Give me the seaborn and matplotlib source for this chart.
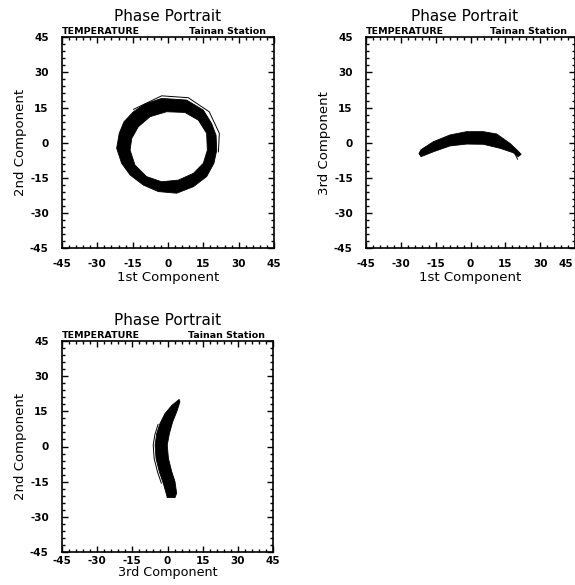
import matplotlib
matplotlib.use("Agg")
import matplotlib.pyplot as plt
from matplotlib.path import Path
from matplotlib.patches import PathPatch
from matplotlib.ticker import MultipleLocator
import matplotlib.transforms as mtransforms
import seaborn as sns

sns.set_style("ticks", {"axes.edgecolor": "black", "xtick.color": "black",
                        "ytick.color": "black", "text.color": "black",
                        "axes.labelcolor": "black"})
plt.rcParams['font.family'] = ['DejaVu Sans']
plt.rcParams['axes.unicode_minus'] = False

# ---------------- text / ticks ----------------
TITLE = "Phase Portrait"
VARIABLE = "TEMPERATURE"
STATION = "Tainan Station"
TICKS = [-45, -30, -15, 0, 15, 30, 45]
TICK_LABELS = ["-45", "-30", "-15", "0", "15", "30", "45"]

# ---------------- panel 1: 1st vs 2nd component (ring band) ----------------
ring_outer_x = [-21.8, -20.7, -18.7, -14.7, -9.8, -2.7, 7.9, 15.0, 18.5, 20.4,
                20.7, 19.5, 16.4, 10.8, 3.7, -4.1, -10.5, -16.1, -19.7]
ring_outer_y = [-2.4, 4.0, 8.9, 13.2, 16.5, 18.9, 18.2, 13.9, 8.2, 3.2,
                -3.2, -8.8, -14.5, -18.8, -21.6, -20.9, -18.1, -13.8, -8.8]
ring_inner_x = [-16.1, -15.4, -12.6, -7.6, -0.6, 7.2, 12.9, 16.4, 16.7, 15.0,
                10.8, 4.4, -2.7, -9.1, -14.0]
ring_inner_y = [-3.2, 1.8, 6.8, 11.1, 13.2, 12.9, 9.6, 4.0, -3.2, -8.8,
                -13.1, -16.0, -16.7, -14.5, -9.6]
ring_stray_x = [-14.7, -2.7, 8.6, 17.5, 21.8, 21.4]
ring_stray_y = [14.2, 20.0, 19.2, 13.2, 4.0, -4.0]

# ---------------- panel 2: 1st vs 3rd component (arc band) ----------------
arc_top_x = [-22.2, -21.3, -16.0, -8.8, -1.6, 5.5, 11.3, 17.0, 20.5, 21.8]
arc_top_y = [-4.6, -3.0, 0.4, 3.3, 4.7, 4.7, 3.7, -0.3, -3.6, -5.0]
arc_bottom_x = [20.5, 18.4, 12.7, 5.5, -1.6, -8.8, -16.0, -21.3]
arc_bottom_y = [-6.0, -4.3, -2.4, -0.7, -0.6, -1.4, -3.9, -6.0]
arc_tail_x = [19.0, 20.3]
arc_tail_y = [-4.5, -7.1]

# ---------------- panel 3: 3rd vs 2nd component (crescent band) ----------------
crescent_left_x = [5.0, 1.8, -1.1, -3.2, -4.6, -5.3, -4.9, -3.5, -1.8, -0.6, -0.1]
crescent_left_y = [20.1, 17.5, 14.0, 9.8, 5.5, 0.6, -5.1, -10.7, -15.7, -19.9, -21.8]
crescent_right_x = [3.2, 3.9, 3.2, 1.8, 0.4, -0.1, 0.8, 2.2, 3.9, 5.3]
crescent_right_y = [-21.8, -19.9, -15.0, -10.7, -5.1, 0.6, 5.5, 10.5, 14.7, 19.0]
crescent_stray_x = [-4.0, -5.4, -6.1, -5.7, -4.3, -2.6]
crescent_stray_y = [9.5, 5.0, 0.6, -5.1, -10.7, -15.7]


def ring_patch(ax, ox, oy, ix, iy):
    verts = list(zip(ox, oy)) + [(ox[0], oy[0])]
    codes = [Path.MOVETO] + [Path.LINETO] * (len(ox) - 1) + [Path.CLOSEPOLY]
    rix, riy = ix[::-1], iy[::-1]
    verts += list(zip(rix, riy)) + [(rix[0], riy[0])]
    codes += [Path.MOVETO] + [Path.LINETO] * (len(rix) - 1) + [Path.CLOSEPOLY]
    ax.add_patch(PathPatch(Path(verts, codes), facecolor="black",
                           edgecolor="black", lw=0.6))


def style(ax, xlabel, ylabel, title_x=0.5, xpad=8, labelpad=1, xlabelsize=9.5):
    ax.set_xlim(-45, 45)
    ax.set_ylim(-45, 45)
    ax.set_xticks(TICKS)
    ax.set_yticks(TICKS)
    ax.set_xticklabels(TICK_LABELS)
    ax.set_yticklabels(TICK_LABELS)
    ax.xaxis.set_minor_locator(MultipleLocator(3))
    ax.yaxis.set_minor_locator(MultipleLocator(3))
    ax.tick_params(which="both", direction="in", top=True, right=True,
                   width=1.0, color="black")
    ax.tick_params(which="major", length=4.5)
    ax.tick_params(which="minor", length=2.2)
    ax.tick_params(axis="x", which="major", pad=xpad, labelsize=7.5)
    ax.tick_params(axis="y", which="major", pad=9.5, labelsize=7.5)
    for lab in ax.get_xticklabels() + ax.get_yticklabels():
        lab.set_fontweight("bold")
    for sp in ax.spines.values():
        sp.set_visible(True)
        sp.set_linewidth(1.2)
        sp.set_color("black")
    ax.set_xlabel(xlabel, fontsize=xlabelsize, labelpad=labelpad)
    ax.set_ylabel(ylabel, fontsize=9.5, labelpad=2)
    ax.text(title_x, 1 + 20.5 / 211, TITLE, transform=ax.transAxes,
            ha="center", va="center", fontsize=11)
    ax.text(0.0, 1 + 5.5 / 211, VARIABLE, transform=ax.transAxes,
            ha="left", va="center", fontsize=6.8, fontweight="bold")
    ax.text(1 - 8 / 211, 1 + 5.5 / 211, STATION, transform=ax.transAxes,
            ha="right", va="center", fontsize=6.8, fontweight="bold")


fig = plt.figure(figsize=(5.75, 5.85), dpi=100)
ax1 = fig.add_axes([62 / 575, (585 - 248) / 585, 212 / 575, 210.7 / 585])
ax2 = fig.add_axes([366 / 575, (585 - 248) / 585, 209 / 575, 210.7 / 585])
ax3 = fig.add_axes([62 / 575, (585 - 552) / 585, 211 / 575, 211 / 585])

# panel 1
ring_patch(ax1, ring_outer_x, ring_outer_y, ring_inner_x, ring_inner_y)
sns.lineplot(x=ring_stray_x, y=ring_stray_y, sort=False, estimator=None,
             color="black", lw=0.7, ax=ax1)
style(ax1, "1st Component", "2nd Component")

# panel 2
ax2.fill(arc_top_x + arc_bottom_x, arc_top_y + arc_bottom_y,
         facecolor="black", edgecolor="black", lw=0.6)
sns.lineplot(x=arc_tail_x, y=arc_tail_y, sort=False, estimator=None,
             color="black", lw=0.7, ax=ax2)
style(ax2, "1st Component", "3rd Component", title_x=0.47)
last = ax2.get_xticklabels()[-1]
last.set_horizontalalignment("right")
last.set_transform(last.get_transform() +
                   mtransforms.ScaledTranslation(-2 / 100, 0, fig.dpi_scale_trans))

# panel 3
ax3.fill(crescent_left_x + crescent_right_x, crescent_left_y + crescent_right_y,
         facecolor="black", edgecolor="black", lw=0.6)
sns.lineplot(x=crescent_stray_x, y=crescent_stray_y, sort=False, estimator=None,
             color="black", lw=0.7, ax=ax3)
style(ax3, "3rd Component", "2nd Component", xpad=3, labelpad=0, xlabelsize=9.2)

fig.savefig("out.png", dpi=100)
